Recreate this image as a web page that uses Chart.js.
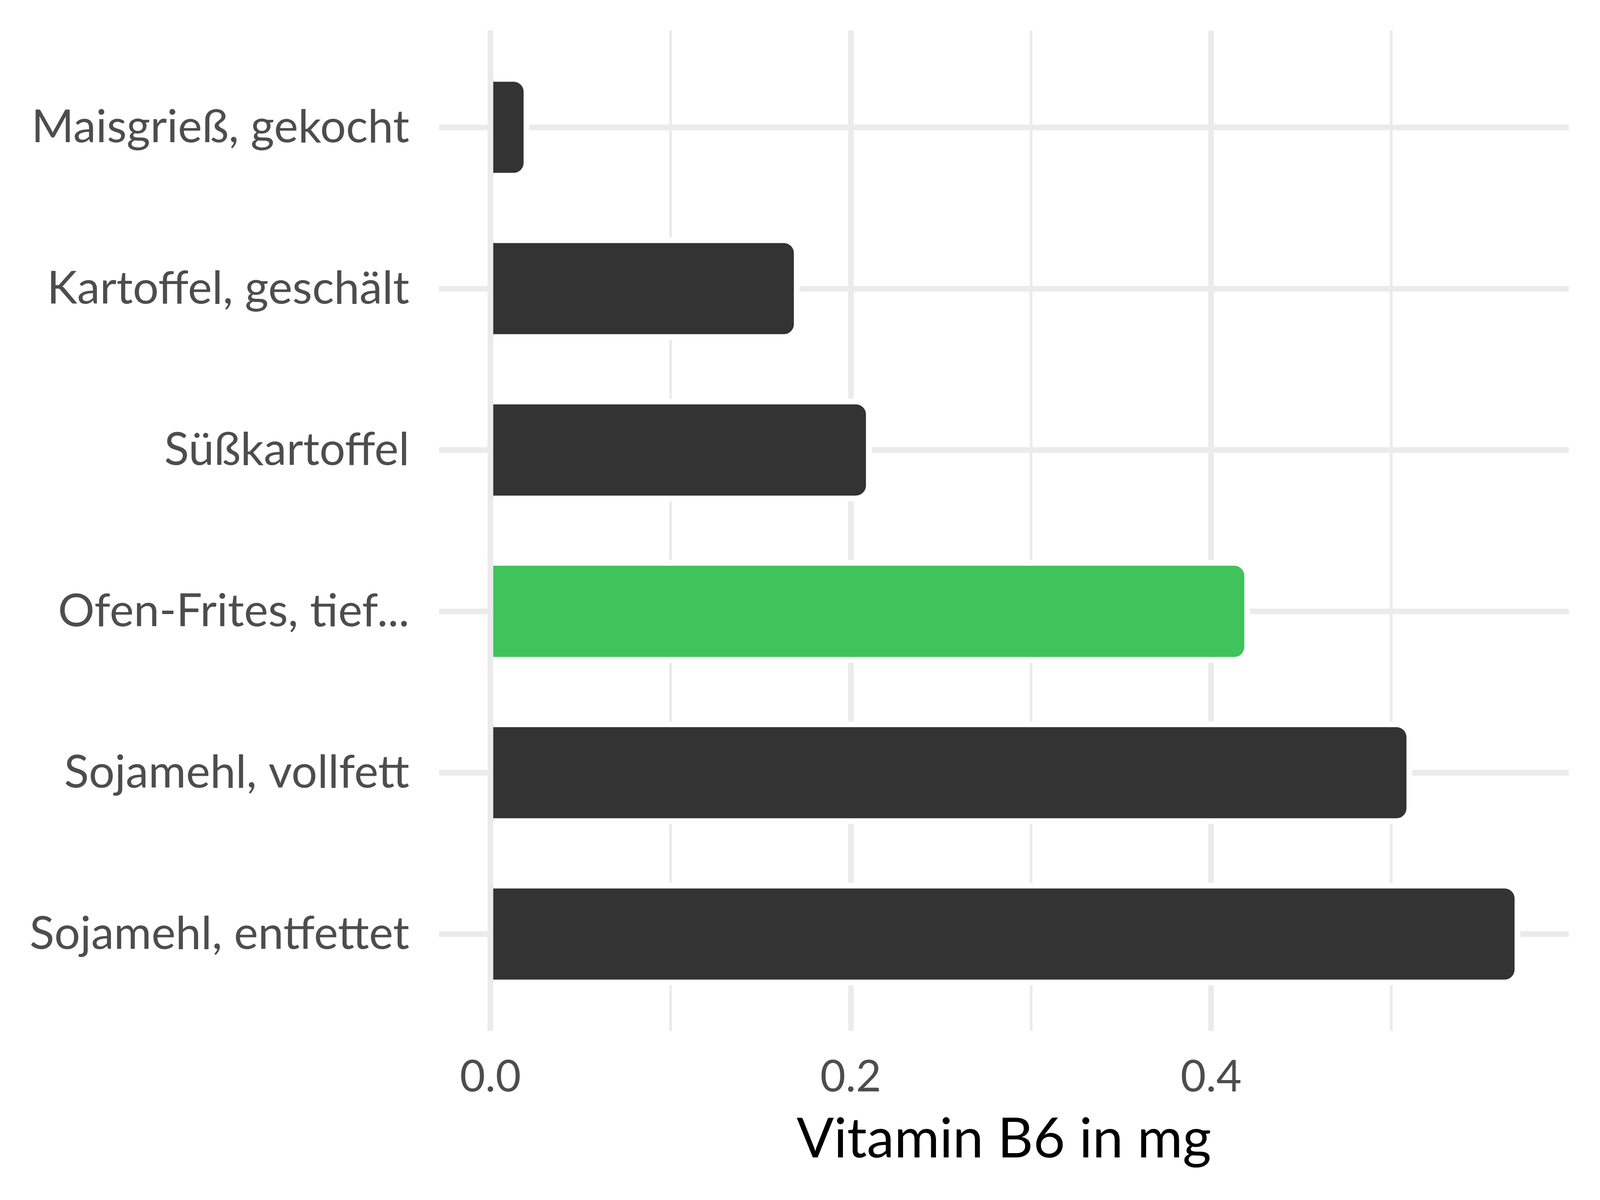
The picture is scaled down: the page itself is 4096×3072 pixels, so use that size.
<!DOCTYPE html>
<html lang="de">
<head>
<meta charset="utf-8">
<title>Vitamin B6 in mg</title>
<script src="https://cdn.jsdelivr.net/npm/chart.js@4/dist/chart.umd.min.js"></script>
<style>
  html, body { margin: 0; padding: 0; background: #fff; }
  #wrap { width: 4096px; height: 3072px; }
</style>
</head>
<body>
<div id="wrap"><canvas id="chartB6" width="4096" height="3072"></canvas></div>
<script>
/* ── Daten ── */
const categories = [
  'Maisgrieß, gekocht',
  'Kartoffel, geschält',
  'Süßkartoffel',
  'Ofen-Frites, tief...',
  'Sojamehl, vollfett',
  'Sojamehl, entfettet',
];
const b6Values   = [0.02, 0.17, 0.21, 0.42, 0.51, 0.57];
const highlight  = 'Ofen-Frites, tief...';
const xTicks     = [0, 0.1, 0.2, 0.3, 0.4, 0.5];
const xLabels    = ['0.0', '', '0.2', '', '0.4', ''];

/* ── Stil ── */
const S          = 0.853;
const DARK       = '#333333';
const GREEN      = '#3fc35a';
const GRID       = '#ebebeb';
const GRID_MAJOR = 17 * S;
const GRID_MINOR = 8.5 * S;
const HALO       = 17 * S;
const RADIUS     = 33;
const FONT       = 'Lato, "Noto Sans", sans-serif';

/* white outline round each bar (as in the ggplot original) */
const haloPlugin = {
  id: 'halo',
  afterDatasetsDraw(chart) {
    const { ctx } = chart;
    const meta = chart.getDatasetMeta(0);
    ctx.save();
    ctx.strokeStyle = '#ffffff';
    ctx.lineWidth = HALO;
    meta.data.forEach(bar => {
      const { x, y, base, height } = bar.getProps(['x', 'y', 'base', 'height'], true);
      const top = y - height / 2, bottom = y + height / 2;
      const r = Math.min(RADIUS, (x - base) / 2, height / 2);
      ctx.beginPath();
      ctx.moveTo(base, top);
      ctx.lineTo(x - r, top);
      ctx.arcTo(x, top, x, top + r, r);
      ctx.lineTo(x, bottom - r);
      ctx.arcTo(x, bottom, x - r, bottom, r);
      ctx.lineTo(base, bottom);
      ctx.stroke();
    });
    ctx.restore();
  },
};

const noEdgePadding = s => {
  s.paddingTop = 0; s.paddingBottom = 0;
  s.paddingLeft = 0; s.paddingRight = 0;
};

new Chart(document.getElementById('chartB6'), {
  type: 'bar',
  data: {
    datasets: [{
      label: 'Vitamin B6 in mg',
      data: b6Values.map((v, i) => ({ x: v, y: i + 1 })),
      backgroundColor: categories.map(c => c === highlight ? GREEN : DARK),
      borderWidth: 0,
      borderRadius: RADIUS,
      borderSkipped: 'start',
      barPercentage: 0.6,
      categoryPercentage: 1,
    }],
  },
  plugins: [haloPlugin],
  options: {
    indexAxis: 'y',
    responsive: false,
    devicePixelRatio: 1,
    animation: false,
    layout: { padding: { top: 78, right: 80, bottom: 0, left: 0 } },
    plugins: {
      legend: { display: false },
      tooltip: { enabled: false },
    },
    scales: {
      x: {
        type: 'linear',
        min: -0.0285,
        max: 0.5985,
        offset: false,
        afterBuildTicks: s => { s.ticks = xTicks.map(v => ({ value: v })); },
        afterFit: s => { s.height = 3072 - 2639; noEdgePadding(s); },
        border: { display: false },
        grid: {
          color: GRID,
          offset: false,
          drawTicks: false,
          lineWidth: c => (c.tick && Math.round(c.tick.value * 10) % 2 === 0) ? GRID_MAJOR : GRID_MINOR,
        },
        ticks: {
          padding: 52,
          color: '#4d4d4d',
          font: { family: FONT, size: 112 },
          callback: (v, i) => xLabels[i],
        },
        title: {
          display: true,
          text: 'Vitamin B6 in mg',
          color: '#000000',
          font: { family: FONT, size: 141 },
          padding: { top: 0, bottom: 70 },
        },
      },
      y: {
        type: 'linear',
        reverse: true,
        min: 0.4,
        max: 6.6,
        offset: false,
        afterBuildTicks: s => { s.ticks = categories.map((c, i) => ({ value: i + 1 })); },
        afterFit: s => { s.width = 1124; noEdgePadding(s); },
        border: { display: false },
        grid: { color: GRID, offset: false, drawTicks: false, lineWidth: GRID_MAJOR },
        ticks: {
          padding: 76,
          color: '#4d4d4d',
          font: { family: FONT, size: 117 },
          callback: v => categories[Math.round(v) - 1],
        },
      },
    },
  },
});
</script>
</body>
</html>
